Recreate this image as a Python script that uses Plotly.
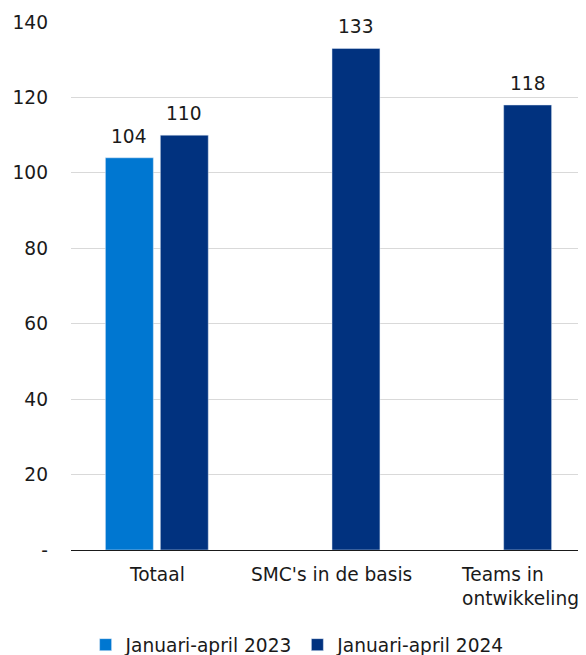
import plotly.graph_objects as go

# Data
categories = ["Totaal", "SMC's in de basis", "Teams in<br>ontwikkeling"]
series_2023 = [104, None, None]
series_2024 = [110, 133, 118]
tick_vals = [0, 20, 40, 60, 80, 100, 120, 140]
tick_text = ["-", "20", "40", "60", "80", "100", "120", "140"]

font_name = "DejaVu Sans"
text_color = "#1a1a1a"
fsize = 18.6

fig = go.Figure()

fig.add_trace(go.Bar(x=categories, y=series_2023, name="Januari-april 2023",
                     marker_color="#0077d1"))
fig.add_trace(go.Bar(x=categories, y=series_2024, name="Januari-april 2024",
                     marker_color="#01327f"))

# value labels above the bars (half a bar slot left / right of the category)
for vals, shift in [(series_2023, -27.5), (series_2024, 27.5)]:
    for cat, v in zip(categories, vals):
        if v is None:
            continue
        fig.add_annotation(x=cat, y=v, text=str(v), showarrow=False,
                           xshift=shift, yanchor="bottom", yshift=9,
                           font=dict(size=fsize, color=text_color))

# category labels, left aligned lines like the original
for cat, shift in zip(categories, [0, 3, 20]):
    fig.add_annotation(x=cat, y=0, text=cat, showarrow=False, align="left",
                       xshift=shift, yanchor="top", yshift=-12,
                       font=dict(size=fsize, color=text_color))

# page body has an 8px margin, so the figure is drawn 8px smaller
fig.update_layout(
    width=578, height=647,
    barmode="group", bargap=0.36, bargroupgap=0.127,
    plot_bgcolor="white", paper_bgcolor="white",
    font=dict(family=font_name, size=fsize, color=text_color),
    margin=dict(l=63, r=0, t=14, b=105, autoexpand=False),
    legend=dict(orientation="h", x=0.44, xanchor="center", y=-0.18, yanchor="middle",
                font=dict(size=fsize), itemwidth=30),
)

fig.update_yaxes(
    range=[0, 140], tickvals=tick_vals, ticktext=tick_text,
    showgrid=True, gridcolor="#d9d9d9", gridwidth=1,
    zeroline=False, ticks="", ticklabelstandoff=22, automargin=False
)
fig.update_xaxes(
    showline=True, linecolor=text_color, linewidth=1,
    ticks="", showticklabels=False, automargin=False
)

fig.write_html("out.html")
